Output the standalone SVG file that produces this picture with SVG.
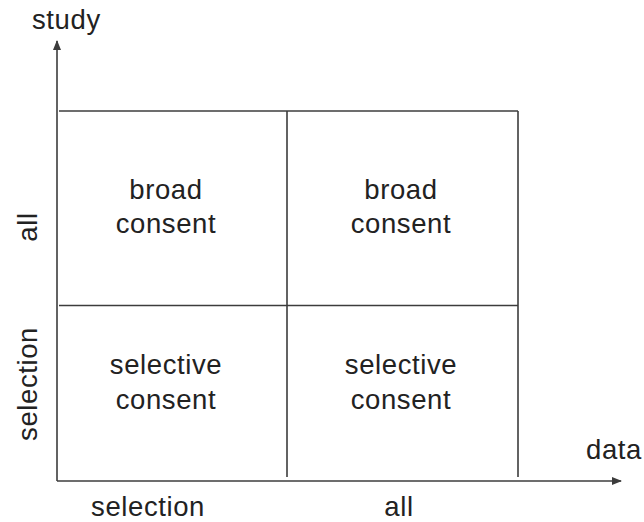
<svg xmlns="http://www.w3.org/2000/svg" width="644" height="522" viewBox="0 0 644 522">
  <style>
    .ln { stroke: #3c3c3c; stroke-width: 1.6; fill: none; }
    .ax { stroke: #3c3c3c; stroke-width: 1.6; fill: none; marker-end: url(#arrow); }
    text { font-family: "Liberation Sans", Arial, sans-serif; font-size: 27.5px; letter-spacing: 0.6px; fill: #222; }
    .c { text-anchor: middle; }
  </style>
  <defs>
    <marker id="arrow" markerWidth="10" markerHeight="8" refX="9" refY="4" orient="auto" markerUnits="userSpaceOnUse">
      <path d="M0,0 L10,4 L0,8 Z" fill="#3c3c3c"/>
    </marker>
  </defs>

  <!-- axes and grid -->
  <g id="connectors">
    <line class="ax" x1="57" y1="481" x2="57" y2="41"/>
    <line class="ax" x1="57" y1="481" x2="621" y2="481"/>
    <line class="ln" x1="59" y1="111" x2="518" y2="111"/>
    <line class="ln" x1="59" y1="305.5" x2="518" y2="305.5"/>
    <line class="ln" x1="287" y1="111" x2="287" y2="477"/>
    <line class="ln" x1="518" y1="111" x2="518" y2="477"/>
  </g>

  <!-- axis labels -->
  <g id="axis-labels">
    <text x="32" y="29">study</text>
    <text x="586" y="459">data</text>
    <text class="c" x="148" y="516">selection</text>
    <text class="c" x="399" y="516">all</text>
    <text class="c" transform="translate(37,227) rotate(-90)">all</text>
    <text class="c" transform="translate(37,384) rotate(-90)">selection</text>
  </g>

  <g id="cell-top-left">
    <text class="c" x="166" y="199">broad</text>
    <text class="c" x="166" y="233">consent</text>
  </g>
  <g id="cell-top-right">
    <text class="c" x="401" y="199">broad</text>
    <text class="c" x="401" y="233">consent</text>
  </g>
  <g id="cell-bottom-left">
    <text class="c" x="166" y="374">selective</text>
    <text class="c" x="166" y="409">consent</text>
  </g>
  <g id="cell-bottom-right">
    <text class="c" x="401" y="374">selective</text>
    <text class="c" x="401" y="409">consent</text>
  </g>
</svg>
